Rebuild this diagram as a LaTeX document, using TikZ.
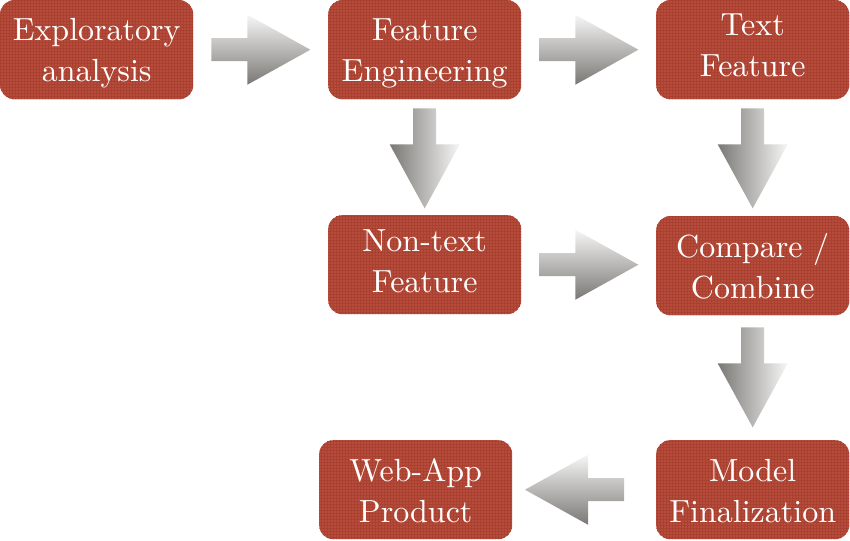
\documentclass[tikz,border=0pt]{standalone}
\usepackage{fontspec}
\setmainfont{lmroman10-regular}[Extension=.otf]
\usetikzlibrary{patterns,calc}
\definecolor{boxred}{HTML}{B84C3C}
\definecolor{boxline}{HTML}{A8412F}
\definecolor{arrlight}{HTML}{F6F6F6}
\definecolor{arrdark}{HTML}{7A7874}
\tikzset{
  box/.style={rounded corners=14pt, fill=boxred, minimum width=193pt,
    minimum height=99pt, inner sep=0pt, anchor=north west,
    postaction={pattern=grid, pattern color=boxline}},
  boxtxt/.style={text=white, align=center, inner sep=0pt,
    font=\fontsize{32}{41}\selectfont},
  rarr/.pic={\path[top color=arrlight, bottom color=arrdark]
    (0,-11.5) -- (36,-11.5) -- (36,-35) -- (99,0) -- (36,35) -- (36,11.5) -- (0,11.5) -- cycle;},
  larr/.pic={\path[top color=arrlight, bottom color=arrdark]
    (0,-11.5) -- (-36,-11.5) -- (-36,-35) -- (-99,0) -- (-36,35) -- (-36,11.5) -- (0,11.5) -- cycle;},
  darr/.pic={\path[left color=arrdark, right color=arrlight]
    (-11.5,0) -- (-11.5,36) -- (-35,36) -- (0,100) -- (35,36) -- (11.5,36) -- (11.5,0) -- cycle;}
}
\newcommand\boxlabel[3]{%
  \node[boxtxt] (#1tx) at ($(#1.north)+(0,#2)$) {#3};}
\begin{document}
\begin{tikzpicture}[x=1pt,y=-1pt]
\useasboundingbox (0,0) rectangle (850,540);
\node[box] (a) at (0,0) {};
\node[box] (b) at (328,0) {};
\node[box] (c) at (656,0) {};
\node[box] (d) at (328,215) {};
\node[box] (e) at (656,216) {};
\node[box] (f) at (656,440) {};
\node[box] (g) at (319,440) {};
\boxlabel{a}{53.3}{\strut Exploratory\\\strut analysis}
\boxlabel{b}{53.3}{\strut Feature\\\strut Engineering}
\boxlabel{c}{48.3}{\strut Text\\\strut Feature}
\boxlabel{d}{48.3}{\strut Non-text\\\strut Feature}
\boxlabel{e}{53.3}{\strut Compare /\\\strut Combine}
\boxlabel{f}{53.3}{\strut Model\\\strut Finalization}
\boxlabel{g}{53.3}{\strut Web-App\\\strut Product}
\pic at ($(a.east)+(18,0)$) {rarr};
\pic at ($(b.east)+(18,0)$) {rarr};
\pic at ($(b.south)+(0,9)$) {darr};
\pic at ($(c.south)+(0,9)$) {darr};
\pic at ($(d.east)+(18,0)$) {rarr};
\pic at ($(e.south)+(0,12)$) {darr};
\pic at ($(f.west)+(-32,0)$) {larr};
\end{tikzpicture}
\end{document}
